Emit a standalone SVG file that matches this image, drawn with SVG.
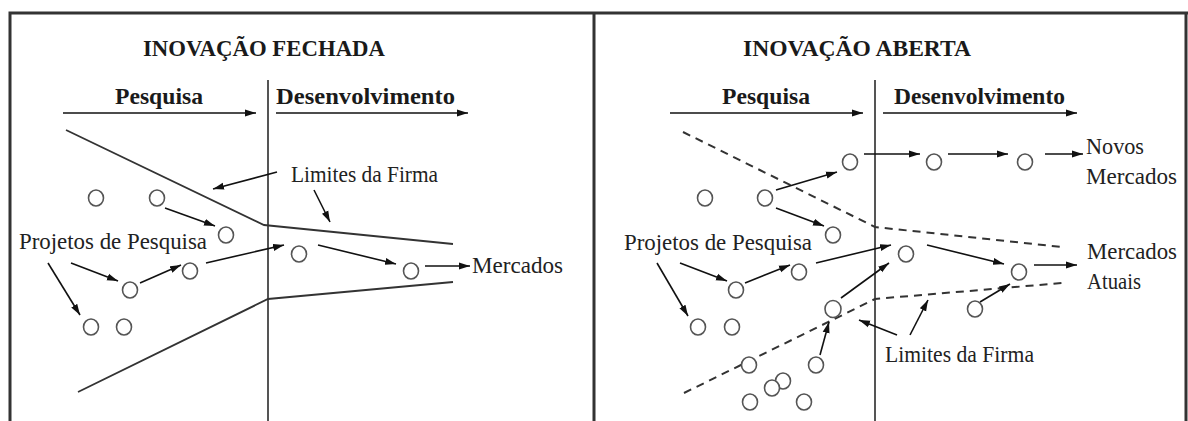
<svg xmlns="http://www.w3.org/2000/svg" width="1188" height="421" viewBox="0 0 1188 421">
<defs>
<marker id="ah" markerUnits="userSpaceOnUse" markerWidth="12" markerHeight="8" refX="11" refY="4" orient="auto">
<path d="M0,0.5 L11,4 L0,7.5 z" fill="#111"/>
</marker>
<style>
.frame{fill:none;stroke:#333;stroke-width:3}
.div{fill:none;stroke:#555;stroke-width:2}
.bound{fill:none;stroke:#333;stroke-width:1.8}
.dash{fill:none;stroke:#333;stroke-width:2;stroke-dasharray:8 6}
.arr{fill:none;stroke:#111;stroke-width:1.6;marker-end:url(#ah)}
.node{fill:#fff;stroke:#555;stroke-width:1.6}
.h{font-family:"Liberation Serif","Times New Roman",serif;font-weight:bold;fill:#1a1a1a;font-size:23px}
.t{font-family:"Liberation Serif","Times New Roman",serif;fill:#222;font-size:24px}
</style>
</defs>
<rect width="1188" height="421" fill="#fff"/>
<g id="frame">
<path class="frame" d="M10,421 V13 H1188"/>
<line class="frame" x1="594" y1="13" x2="594" y2="421"/>
<line class="frame" x1="1186" y1="13" x2="1186" y2="421"/>
<line class="div" x1="268" y1="80" x2="268" y2="421"/>
<line class="div" x1="875" y1="80" x2="875" y2="421"/>
</g>
<g id="headers">
<text class="h" x="143" y="56" textLength="242" lengthAdjust="spacingAndGlyphs">INOVAÇÃO FECHADA</text>
<text class="h" x="115" y="104" textLength="88" lengthAdjust="spacingAndGlyphs">Pesquisa</text>
<text class="h" x="276" y="104" textLength="179" lengthAdjust="spacingAndGlyphs">Desenvolvimento</text>
<text class="h" x="743" y="56" textLength="228" lengthAdjust="spacingAndGlyphs">INOVAÇÃO ABERTA</text>
<text class="h" x="722" y="104" textLength="88" lengthAdjust="spacingAndGlyphs">Pesquisa</text>
<text class="h" x="894" y="104" textLength="171" lengthAdjust="spacingAndGlyphs">Desenvolvimento</text>
</g>
<g id="boundaries">
<polyline class="bound" points="66,130 264,225 453,244"/>
<polyline class="bound" points="78,392 268,299 453,282"/>
<polyline class="dash" points="683,132 875,227 1062,247"/>
<polyline class="dash" points="684,393 875,299 1062,283"/>
</g>
<g id="labels">
<text id="lbl-limites-l" class="t" x="291" y="182" textLength="147" lengthAdjust="spacingAndGlyphs">Limites da Firma</text>
<text id="lbl-projetos-l" class="t" x="19" y="249" textLength="188" lengthAdjust="spacingAndGlyphs">Projetos de Pesquisa</text>
<text id="lbl-mercados-l" class="t" x="472" y="273" textLength="91" lengthAdjust="spacingAndGlyphs">Mercados</text>
<text id="lbl-novos" class="t" x="1086" y="154" textLength="58" lengthAdjust="spacingAndGlyphs">Novos</text>
<text id="lbl-novos-merc" class="t" x="1086" y="184" textLength="91" lengthAdjust="spacingAndGlyphs">Mercados</text>
<text id="lbl-projetos-r" class="t" x="624" y="250" textLength="188" lengthAdjust="spacingAndGlyphs">Projetos de Pesquisa</text>
<text id="lbl-atuais-merc" class="t" x="1087" y="259" textLength="90" lengthAdjust="spacingAndGlyphs">Mercados</text>
<text id="lbl-atuais" class="t" x="1087" y="289" textLength="54" lengthAdjust="spacingAndGlyphs">Atuais</text>
<text id="lbl-limites-r" class="t" x="885" y="362" textLength="149" lengthAdjust="spacingAndGlyphs">Limites da Firma</text>
</g>
<g id="connectors">
<line class="arr" x1="63" y1="113" x2="256" y2="113"/>
<line class="arr" x1="276" y1="113" x2="468" y2="113"/>
<line class="arr" x1="670" y1="113" x2="863" y2="113"/>
<line class="arr" x1="883" y1="113" x2="1077" y2="113"/>
<line class="arr" x1="277" y1="172" x2="213" y2="189"/>
<line class="arr" x1="314" y1="190" x2="330" y2="222"/>
<line class="arr" x1="165" y1="208" x2="215" y2="226"/>
<line class="arr" x1="71" y1="263" x2="118" y2="281"/>
<line class="arr" x1="48" y1="263" x2="80" y2="315"/>
<line class="arr" x1="140" y1="283" x2="181" y2="265"/>
<line class="arr" x1="206" y1="263" x2="284" y2="245"/>
<line class="arr" x1="318" y1="245" x2="396" y2="264"/>
<line class="arr" x1="425" y1="266" x2="470" y2="266"/>
<line class="arr" x1="776" y1="190" x2="837" y2="172"/>
<line class="arr" x1="776" y1="208" x2="824" y2="226"/>
<line class="arr" x1="864" y1="154" x2="920" y2="154"/>
<line class="arr" x1="948" y1="154" x2="1008" y2="154"/>
<line class="arr" x1="1045" y1="154" x2="1083" y2="154"/>
<line class="arr" x1="680" y1="263" x2="727" y2="281"/>
<line class="arr" x1="657" y1="263" x2="688" y2="316"/>
<line class="arr" x1="745" y1="283" x2="790" y2="265"/>
<line class="arr" x1="816" y1="263" x2="891" y2="245"/>
<line class="arr" x1="927" y1="245" x2="1004" y2="264"/>
<line class="arr" x1="1034" y1="265" x2="1077" y2="265"/>
<line class="arr" x1="841" y1="298" x2="889" y2="263"/>
<line class="arr" x1="820" y1="355" x2="829" y2="322"/>
<line class="arr" x1="980" y1="302" x2="1010" y2="284"/>
<line class="arr" x1="897" y1="335" x2="859" y2="320"/>
<line class="arr" x1="910" y1="335" x2="928" y2="300"/>
</g>
<g id="nodes">
<g id="l1"><ellipse class="node" cx="96" cy="198" rx="7.5" ry="8"/></g>
<g id="l2"><ellipse class="node" cx="157" cy="198" rx="7.5" ry="8"/></g>
<g id="l3"><ellipse class="node" cx="226" cy="235" rx="7.5" ry="8"/></g>
<g id="l4"><ellipse class="node" cx="130" cy="290" rx="7.5" ry="8"/></g>
<g id="l5"><ellipse class="node" cx="190" cy="271" rx="7.5" ry="8"/></g>
<g id="l6"><ellipse class="node" cx="299" cy="254" rx="7.5" ry="8"/></g>
<g id="l7"><ellipse class="node" cx="411" cy="271" rx="7.5" ry="8"/></g>
<g id="l8"><ellipse class="node" cx="91" cy="327" rx="7.5" ry="8"/></g>
<g id="l9"><ellipse class="node" cx="124" cy="327" rx="7.5" ry="8"/></g>
<g id="r1"><ellipse class="node" cx="850" cy="162" rx="7.5" ry="8"/></g>
<g id="r2"><ellipse class="node" cx="934" cy="162" rx="7.5" ry="8"/></g>
<g id="r3"><ellipse class="node" cx="1025" cy="162" rx="7.5" ry="8"/></g>
<g id="r4"><ellipse class="node" cx="705" cy="198" rx="7.5" ry="8"/></g>
<g id="r5"><ellipse class="node" cx="765" cy="198" rx="7.5" ry="8"/></g>
<g id="r6"><ellipse class="node" cx="833" cy="235" rx="7.5" ry="8"/></g>
<g id="r7"><ellipse class="node" cx="906" cy="254" rx="7.5" ry="8"/></g>
<g id="r8"><ellipse class="node" cx="1019" cy="272" rx="7.5" ry="8"/></g>
<g id="r9"><ellipse class="node" cx="799" cy="272" rx="7.5" ry="8"/></g>
<g id="r10"><ellipse class="node" cx="736" cy="290" rx="7.5" ry="8"/></g>
<g id="r11"><ellipse class="node" cx="698" cy="327" rx="7.5" ry="8"/></g>
<g id="r12"><ellipse class="node" cx="732" cy="327" rx="7.5" ry="8"/></g>
<g id="r13"><ellipse class="node" cx="833" cy="309" rx="8" ry="8.5"/></g>
<g id="r14"><ellipse class="node" cx="975" cy="309" rx="7.5" ry="8"/></g>
<g id="r15"><ellipse class="node" cx="749" cy="365" rx="7.5" ry="8"/></g>
<g id="r16"><ellipse class="node" cx="816" cy="365" rx="7.5" ry="8"/></g>
<g id="r17"><ellipse class="node" cx="783" cy="381" rx="7.5" ry="8"/></g>
<g id="r18"><ellipse class="node" cx="772" cy="388" rx="7.5" ry="8"/></g>
<g id="r19"><ellipse class="node" cx="750" cy="402" rx="7.5" ry="8"/></g>
<g id="r20"><ellipse class="node" cx="804" cy="402" rx="7.5" ry="8"/></g>
</g>
</svg>
